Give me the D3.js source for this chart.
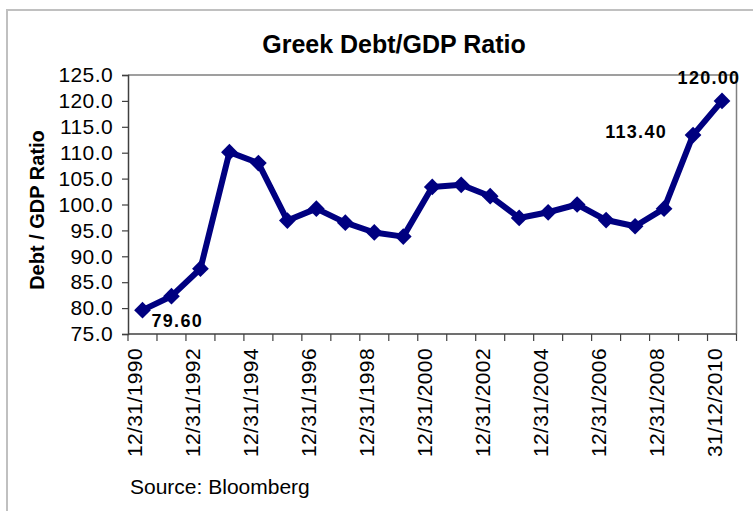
<!DOCTYPE html>
<html lang="en">
<head>
    <meta charset="UTF-8">
    <title>Greek Debt/GDP Ratio</title>
    <script src="https://d3js.org/d3.v7.min.js"></script>
    <style>
        body { margin: 0; background: #fff; }
        text { font-family: "Liberation Sans", Arial, sans-serif; }
    </style>
</head>
<body>
<svg width="753" height="511"></svg>
<script>
    // data
    let years = d3.range(1990, 2011)
    let dateLabels = ["12/31/1990", "12/31/1991", "12/31/1992", "12/31/1993", "12/31/1994",
        "12/31/1995", "12/31/1996", "12/31/1997", "12/31/1998", "12/31/1999", "12/31/2000",
        "12/31/2001", "12/31/2002", "12/31/2003", "12/31/2004", "12/31/2005", "12/31/2006",
        "12/31/2007", "12/31/2008", "12/31/2009", "31/12/2010"]
    let ratio = [79.6, 82.3, 87.6, 110.1, 108.0, 96.9, 99.2, 96.5, 94.6, 93.8, 103.4,
        103.8, 101.6, 97.4, 98.5, 100.0, 97.0, 95.8, 99.2, 113.4, 120.0]
    let yTicks = [75, 80, 85, 90, 95, 100, 105, 110, 115, 120, 125]
    // which points carry a value label
    let labelled = [0, 19, 20]

    let svg = d3.select('svg')
    let plotL = 128, plotR = 736.5, plotT = 75, plotB = 334

    // outer chart frame
    svg.append("rect")
        .attr("x", 7).attr("y", 10)
        .attr("width", 770).attr("height", 520)
        .attr("fill", "none")
        .attr("stroke", "#c0c0c0")
        .attr("stroke-width", 2)

    svg.append("text")
        .attr("x", 394).attr("y", 53)
        .attr("text-anchor", "middle")
        .attr("font-weight", "bold")
        .attr("font-size", 25)
        .text("Greek Debt/GDP Ratio")

    let x = d3.scaleBand().domain(d3.range(years.length)).range([plotL, plotR])
    let y = d3.scaleLinear().domain([75, 125]).range([plotB, plotT])

    // plot area border (top / right)
    svg.append("path")
        .attr("d", `M${plotL},${plotT}H${plotR}V${plotB}`)
        .attr("fill", "none")
        .attr("stroke", "#808080")
        .attr("stroke-width", 1.5)

    // y axis
    let yAxis = svg.append("g")
        .attr("transform", `translate(${plotL},0)`)
        .call(d3.axisLeft(y).tickValues(yTicks).tickFormat(d3.format(".1f")).tickSize(6).tickPadding(9))
    yAxis.select(".domain").attr("stroke", "#404040").attr("stroke-width", 1.5)
    yAxis.selectAll(".tick line").attr("stroke", "#404040").attr("stroke-width", 1.2)
    yAxis.selectAll("text")
        .attr("font-family", "Liberation Sans, Arial, sans-serif")
        .attr("font-size", 21)
        .attr("fill", "#000")
        .attr("letter-spacing", 0.4)

    // x axis: ticks between categories
    let xg = svg.append("g")
    xg.append("line")
        .attr("x1", plotL).attr("x2", plotR)
        .attr("y1", plotB).attr("y2", plotB)
        .attr("stroke", "#404040").attr("stroke-width", 1.5)
    xg.selectAll(".xt")
        .data(d3.range(years.length + 1))
        .enter()
        .append("line")
        .attr("x1", d => plotL + d * x.step())
        .attr("x2", d => plotL + d * x.step())
        .attr("y1", plotB).attr("y2", plotB + 7)
        .attr("stroke", "#404040").attr("stroke-width", 1.2)

    xg.selectAll(".xl")
        .data(d3.range(0, years.length, 2))
        .enter()
        .append("text")
        .attr("transform", d => `translate(${x(d) + x.bandwidth() / 2},348) rotate(-90)`)
        .attr("text-anchor", "end")
        .attr("y", 0)
        .attr("font-size", 21)
        .attr("letter-spacing", 0.4)
        .text(d => dateLabels[d])

    // y axis title
    svg.append("text")
        .attr("transform", "translate(44,210) rotate(-90)")
        .attr("text-anchor", "middle")
        .attr("font-weight", "bold")
        .attr("font-size", 20)
        .text("Debt / GDP Ratio")

    // line + markers
    let cx = i => x(i) + x.bandwidth() / 2
    let line = d3.line()
        .x((d, i) => cx(i))
        .y(d => y(d))

    svg.append("path")
        .datum(ratio)
        .attr("d", line)
        .attr("fill", "none")
        .attr("stroke", "#000080")
        .attr("stroke-width", 6)
        .attr("stroke-linejoin", "round")

    svg.append("g")
        .selectAll("path")
        .data(ratio)
        .enter()
        .append("path")
        .attr("d", d3.symbol().type(d3.symbolSquare).size(140))
        .attr("transform", (d, i) => `translate(${cx(i)},${y(d)}) rotate(45)`)
        .attr("fill", "#000080")

    // value labels
    let labelPos = {0: [9, 17, "start"], 19: [-26, 3, "end"], 20: [-13, -17, "middle"]}
    svg.append("g")
        .selectAll("text")
        .data(labelled)
        .enter()
        .append("text")
        .attr("x", i => cx(i) + labelPos[i][0])
        .attr("y", i => y(ratio[i]) + labelPos[i][1])
        .attr("text-anchor", i => labelPos[i][2])
        .attr("font-weight", "bold")
        .attr("font-size", 18)
        .attr("letter-spacing", 1.3)
        .text(i => ratio[i].toFixed(2))

    svg.append("text")
        .attr("x", 130).attr("y", 494)
        .attr("font-size", 21)
        .text("Source: Bloomberg")
</script>
</body>
</html>
